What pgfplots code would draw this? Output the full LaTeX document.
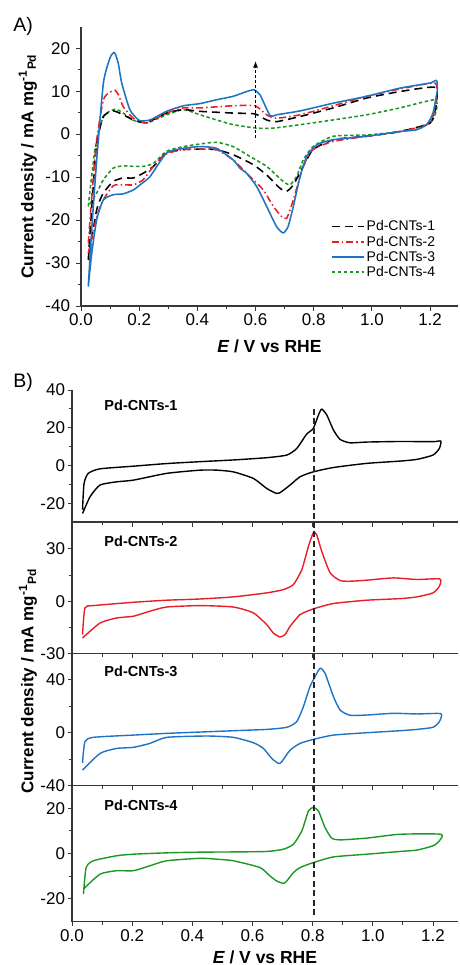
\documentclass[border=0pt]{standalone}
\usepackage{fontspec}
\setmainfont{Liberation Sans}
\usepackage{pgfplots}
\pgfplotsset{compat=1.18}
\usetikzlibrary{arrows.meta}
\definecolor{cred}{RGB}{232,30,38}
\definecolor{cblue}{RGB}{30,115,195}
\definecolor{cgreen}{RGB}{28,150,36}
\definecolor{axgray}{RGB}{55,55,55}
\tikzset{
  cv/.style={line width=1.55pt, line join=round},
  plab/.style={font=\fontsize{14.5}{16}\selectfont\bfseries, anchor=west},
}
\pgfplotsset{
  base/.style={
    scale only axis,
    axis x line*=bottom, axis y line*=left,
    axis line style={line width=1.2pt, axgray},
    tick style={line width=1pt, axgray},
    tick align=outside,
    major tick length=4.5pt, minor tick length=3pt,
    /pgf/number format/assume math mode=true,
    tick label style={font=\fontsize{17}{18}\selectfont},
    xtick={0,0.2,0.4,0.6,0.8,1.0,1.2},
    minor x tick num=1,
    minor y tick num=1,
    xticklabel style={/pgf/number format/fixed, /pgf/number format/fixed zerofill, /pgf/number format/precision=1},
    yticklabel style={/pgf/number format/fixed, /pgf/number format/precision=0},
    clip=false,
  },
}
\begin{document}
\begin{tikzpicture}[x=1pt,y=1pt]
\useasboundingbox (0,0) rectangle (459,-965);
\node[font=\fontsize{19.5}{20}\selectfont] at (23,-26) {A)};
\node[font=\fontsize{19.5}{20}\selectfont] at (23,-382) {B)};

% ---------------- Panel A ----------------
\begin{axis}[base,
  at={(81pt,-306pt)}, anchor=south west,
  width=377pt, height=279.3pt,
  xmin=0, xmax=1.296, ymin=-40, ymax=25,
  ytick={-40,-30,-20,-10,0,10,20},
  yticklabel style={xshift=-3pt},
  xlabel={\bfseries\itshape E\upshape\ / V vs RHE},
  xlabel style={font=\fontsize{17.5}{19}\selectfont, at={(axis description cs:0.5,-0.145)}, anchor=center},
  ylabel={\bfseries Current density / mA mg\textsuperscript{-1}\textsubscript{Pd}},
  ylabel style={font=\fontsize{17}{19}\selectfont, at={(axis description cs:-0.141,0.5)}, anchor=center},
  legend style={draw=none, fill=none, at={(axis description cs:0.655,0.32)}, anchor=north west,
    font=\fontsize{14}{15}\selectfont, row sep=-0.5pt, cells={anchor=west}},
  legend cell align=left,
  legend image code/.code={\draw[#1, line width=1.55pt] (0pt,0pt) -- (32pt,0pt);},
]
\addlegendimage{black, dash pattern=on 8pt off 5pt}
\addlegendentry{Pd-CNTs-1}
\addlegendimage{cred, dash pattern=on 7pt off 3pt on 1.5pt off 3pt}
\addlegendentry{Pd-CNTs-2}
\addlegendimage{cblue}
\addlegendentry{Pd-CNTs-3}
\addlegendimage{cgreen, dash pattern=on 3.5pt off 2.5pt}
\addlegendentry{Pd-CNTs-4}

% Pd-CNTs-4
\addplot[cv, cgreen, dash pattern=on 3.5pt off 2.5pt, smooth, tension=0.35, forget plot] coordinates {
(0.025,-16.8) (0.048,-3.6) (0.077,4.1) (0.117,5.8) (0.145,4.9) (0.180,3.2) (0.226,2.6) (0.294,4.5) (0.352,5.7) (0.409,4.5) (0.466,3.3) (0.523,2.2) (0.604,1.4) (0.661,1.4) (0.753,2.2) (0.867,3.3) (0.982,4.5) (1.096,6.1) (1.216,8.0) (1.222,5.7) (1.200,2.6) (1.096,0.6) (0.982,-0.2) (0.867,-0.5) (0.798,-2.9) (0.764,-6.0) (0.741,-9.9) (0.718,-11.8) (0.695,-11.0) (0.638,-7.5) (0.581,-5.2) (0.523,-2.9) (0.466,-1.9) (0.409,-2.3) (0.352,-2.9) (0.294,-4.0) (0.249,-6.8) (0.214,-7.5) (0.180,-7.5) (0.145,-7.4) (0.111,-7.9) (0.077,-10.6) (0.054,-13.7) (0.025,-16.8)};
% Pd-CNTs-1
\addplot[cv, black, dash pattern=on 8pt off 5pt, smooth, tension=0.35, forget plot] coordinates {
(0.025,-29.3) (0.040,-14) (0.054,-2.1) (0.077,4.1) (0.111,5.4) (0.145,4.5) (0.180,3.3) (0.226,2.7) (0.294,4.9) (0.352,5.7) (0.409,5.3) (0.523,4.9) (0.598,4.7) (0.638,3.3) (0.672,2.9) (0.753,4.1) (0.867,6.1) (0.982,8.4) (1.096,9.9) (1.216,10.9) (1.222,7.2) (1.200,2.6) (1.096,0.6) (0.982,-0.5) (0.867,-1.3) (0.798,-3.6) (0.764,-7.5) (0.730,-11.8) (0.707,-13.3) (0.684,-12.6) (0.638,-9.5) (0.592,-7.1) (0.523,-4.8) (0.466,-3.6) (0.409,-3.5) (0.352,-3.6) (0.294,-4.4) (0.249,-7.5) (0.214,-9.1) (0.180,-10.2) (0.145,-10.2) (0.111,-11.0) (0.077,-13.7) (0.054,-17.6) (0.025,-29.3)};
% Pd-CNTs-2
\addplot[cv, cred, dash pattern=on 7pt off 3pt on 1.5pt off 3pt, smooth, tension=0.35, forget plot] coordinates {
(0.025,-25.4) (0.040,-12) (0.054,-1.3) (0.077,8.0) (0.100,9.8) (0.117,10.2) (0.130,9.0) (0.145,6.4) (0.180,3.7) (0.226,2.6) (0.294,4.9) (0.352,6.1) (0.409,6.1) (0.523,6.6) (0.598,6.6) (0.638,4.5) (0.672,3.7) (0.753,4.5) (0.867,6.6) (0.982,8.8) (1.096,10.5) (1.216,11.9) (1.222,8.8) (1.200,2.6) (1.096,0.6) (0.982,-0.5) (0.867,-1.7) (0.798,-3.6) (0.764,-7.5) (0.730,-15.3) (0.707,-19.6) (0.690,-19.2) (0.661,-16.8) (0.627,-13.0) (0.592,-10.6) (0.558,-8.3) (0.523,-6.0) (0.466,-3.6) (0.409,-3.5) (0.352,-3.6) (0.294,-4.6) (0.249,-7.5) (0.214,-10.6) (0.180,-11.8) (0.145,-11.8) (0.111,-12.0) (0.077,-15.3) (0.054,-19.2) (0.025,-27.7)};
% Pd-CNTs-3
\addplot[cv, cblue, smooth, tension=0.35, forget plot] coordinates {
(0.025,-35.5) (0.037,-22) (0.054,-6) (0.077,11.9) (0.100,17.8) (0.115,19.0) (0.128,16.5) (0.140,11.9) (0.168,5.7) (0.200,3.2) (0.237,3.3) (0.294,5.3) (0.352,6.6) (0.409,7.1) (0.466,8.0) (0.523,8.8) (0.569,9.9) (0.594,10.3) (0.615,9.2) (0.650,4.3) (0.672,4.5) (0.753,5.4) (0.867,7.2) (0.982,8.8) (1.096,10.7) (1.200,11.9) (1.222,12.5) (1.225,10.3) (1.210,4.9) (1.188,2.2) (1.153,1.0) (1.096,0.6) (0.982,-0.5) (0.867,-1.3) (0.810,-2.5) (0.776,-5.2) (0.753,-9.9) (0.730,-16.8) (0.712,-21.5) (0.695,-23.0) (0.672,-21.5) (0.638,-16.8) (0.604,-12.2) (0.569,-9.1) (0.546,-7.9) (0.523,-6.0) (0.466,-3.3) (0.409,-2.9) (0.352,-3.3) (0.294,-4.4) (0.237,-9.9) (0.203,-11.8) (0.180,-13.0) (0.145,-13.9) (0.111,-14.1) (0.077,-15.3) (0.054,-19.9) (0.037,-27.7) (0.025,-35.5)};
% arrow
\addplot[black, line width=1pt, dash pattern=on 3pt off 2pt, -{Latex[length=6.5pt,width=5pt]}, forget plot] coordinates {(0.6,-1) (0.6,17)};
\end{axis}

% ---------------- Panel B1 ----------------
\begin{axis}[base,
  at={(72pt,-522pt)}, anchor=south west,
  width=386pt, height=132pt,
  xmin=0, xmax=1.283, ymin=-30, ymax=40,
  ytick={-20,0,20,40}, xticklabels={},
  yticklabel style={xshift=1pt},
]
\addplot[cv, line width=1.4pt, black, smooth, tension=0.35] coordinates {
(0.035,-23.4) (0.040,-9.6) (0.054,-4.2) (0.093,-1.8) (0.204,-0.4) (0.315,1.0) (0.426,2.0) (0.536,2.9) (0.647,4.1) (0.714,5.5) (0.747,9.0) (0.780,16.6) (0.802,19.6) (0.819,26.7) (0.830,29.9) (0.847,26.7) (0.869,18.8) (0.891,13.8) (0.924,12.0) (0.980,12.4) (1.090,12.7) (1.200,12.6) (1.226,12.9) (1.221,9.0) (1.200,5.5) (1.146,3.2) (1.090,2.3) (0.980,1.1) (0.869,-1.1) (0.802,-3.4) (0.758,-6.0) (0.725,-10.4) (0.691,-14.5) (0.680,-14.9) (0.647,-12.2) (0.603,-6.9) (0.536,-3.4) (0.481,-2.5) (0.426,-2.5) (0.315,-4.2) (0.204,-7.8) (0.148,-8.7) (0.093,-10.4) (0.060,-16.6) (0.035,-25.5)};
\addplot[black!85, line width=1.5pt, dash pattern=on 6pt off 3.5pt] coordinates {(0.805,30) (0.805,-30)};
\node[plab] at (axis description cs:0.075,1) [yshift=-15pt] {Pd-CNTs-1};
\end{axis}

% ---------------- Panel B2 ----------------
\begin{axis}[base,
  at={(72pt,-653.5pt)}, anchor=south west,
  width=386pt, height=131.5pt,
  xmin=0, xmax=1.283, ymin=-30, ymax=45.5,
  ytick={-30,0,30}, xticklabels={},
  yticklabel style={xshift=1pt},
]
\addplot[cv, line width=1.4pt, cred, smooth, tension=0.35] coordinates {
(0.035,-19.2) (0.043,-3.8) (0.071,-2.5) (0.204,-0.6) (0.315,0.6) (0.426,1.3) (0.536,2.5) (0.647,4.8) (0.703,6.7) (0.736,9.6) (0.764,18.2) (0.786,31.6) (0.802,39.3) (0.813,38.3) (0.830,28.7) (0.858,16.3) (0.891,11.9) (0.924,11.5) (0.980,12.1) (1.068,13.4) (1.146,12.5) (1.223,12.8) (1.221,8.6) (1.200,4.8) (1.146,2.5) (1.090,1.5) (0.980,0.6) (0.869,-1.3) (0.802,-4.4) (0.758,-7.7) (0.725,-14.4) (0.708,-19.2) (0.691,-20.5) (0.669,-18.2) (0.647,-13.4) (0.603,-6.7) (0.536,-3.3) (0.426,-2.5) (0.315,-3.3) (0.259,-5.7) (0.204,-8.6) (0.148,-9.6) (0.093,-12.5) (0.035,-21.1)};
\addplot[black!85, line width=1.5pt, dash pattern=on 6pt off 3.5pt] coordinates {(0.805,45.5) (0.805,-30)};
\node[plab] at (axis description cs:0.075,1) [yshift=-19pt] {Pd-CNTs-2};
\end{axis}

% ---------------- Panel B3 ----------------
\begin{axis}[base,
  at={(72pt,-785.5pt)}, anchor=south west,
  width=386pt, height=132pt,
  xmin=0, xmax=1.283, ymin=-40, ymax=60,
  ytick={-40,0,40}, xticklabels={},
  yticklabel style={xshift=1pt},
  ylabel={\bfseries Current density / mA mg\textsuperscript{-1}\textsubscript{Pd}},
  ylabel style={font=\fontsize{17}{19}\selectfont, at={(axis description cs:-0.114,0.79)}, anchor=center},
]
\addplot[cv, line width=1.4pt, cblue, smooth, tension=0.35] coordinates {
(0.035,-22.8) (0.043,-6.8) (0.071,-3.5) (0.204,-1.8) (0.315,-0.5) (0.426,0.5) (0.536,1.5) (0.647,2.5) (0.714,4.1) (0.747,8.4) (0.769,19.7) (0.791,34.9) (0.808,42.5) (0.825,48.9) (0.841,45.1) (0.869,27.3) (0.891,17.2) (0.924,13.2) (0.980,13.4) (1.068,14.7) (1.146,14.2) (1.226,14.4) (1.221,8.4) (1.200,4.1) (1.146,2.5) (1.090,1.5) (0.980,0) (0.869,-1.8) (0.802,-5.1) (0.758,-8.1) (0.725,-13.2) (0.697,-22.0) (0.686,-23.3) (0.664,-19.5) (0.636,-11.9) (0.603,-7.6) (0.536,-3.5) (0.448,-2.5) (0.315,-3.5) (0.259,-8.1) (0.204,-11.1) (0.148,-11.9) (0.093,-15.7) (0.035,-28.4)};
\addplot[black!85, line width=1.5pt, dash pattern=on 6pt off 3.5pt] coordinates {(0.805,60) (0.805,-40)};
\node[plab] at (axis description cs:0.075,1) [yshift=-18pt] {Pd-CNTs-3};
\end{axis}

% ---------------- Panel B4 ----------------
\begin{axis}[base,
  at={(72pt,-921.5pt)}, anchor=south west,
  width=386pt, height=136pt,
  xmin=0, xmax=1.283, ymin=-30, ymax=30,
  ytick={-20,0,20},
  yticklabel style={xshift=1pt},
  xlabel={\bfseries\itshape E\upshape\ / V vs RHE},
  xlabel style={font=\fontsize{17.5}{19}\selectfont, at={(axis description cs:0.5,-0.26)}, anchor=center},
]
\addplot[cv, line width=1.4pt, cgreen, smooth, tension=0.35] coordinates {
(0.038,-17.9) (0.047,-6.2) (0.071,-3.2) (0.148,-1.0) (0.204,-0.3) (0.315,0.3) (0.426,0.6) (0.536,0.7) (0.647,0.9) (0.703,1.9) (0.736,4.1) (0.764,10.0) (0.786,18.8) (0.802,20.3) (0.819,18.8) (0.841,11.5) (0.863,6.8) (0.891,6.0) (0.980,6.8) (1.090,8.5) (1.226,8.5) (1.221,5.6) (1.200,3.4) (1.146,1.5) (1.090,0.9) (0.980,-0.3) (0.869,-1.5) (0.802,-4.0) (0.758,-6.2) (0.736,-8.4) (0.714,-12.1) (0.703,-13.2) (0.680,-12.1) (0.658,-9.9) (0.625,-6.2) (0.536,-3.2) (0.481,-2.5) (0.426,-2.1) (0.315,-3.2) (0.259,-5.4) (0.204,-7.6) (0.148,-7.6) (0.093,-9.1) (0.038,-15.7)};
\addplot[black!85, line width=1.5pt, dash pattern=on 6pt off 3.5pt] coordinates {(0.805,30) (0.805,-27)};
\node[plab] at (axis description cs:0.075,1) [yshift=-20pt] {Pd-CNTs-4};
\end{axis}
\end{tikzpicture}
\end{document}
